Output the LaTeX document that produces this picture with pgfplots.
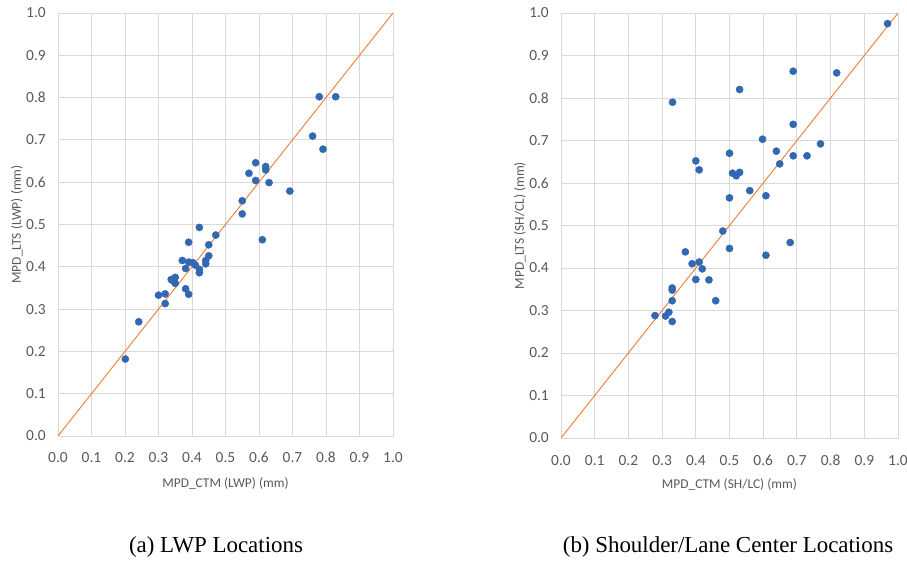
\documentclass[border=0pt]{standalone}
\usepackage{fontspec}
\setmainfont{Liberation Serif}
\newfontfamily\calib{Carlito}
\usepackage{pgfplots}
\pgfplotsset{compat=1.18}
\definecolor{dotblue}{RGB}{50,103,178}
\definecolor{lineorange}{RGB}{237,125,49}
\definecolor{txtgray}{RGB}{89,89,89}
\definecolor{gridgray}{RGB}{217,217,217}
\pgfplotsset{
  excel/.style={
    scale only axis,
    xmin=0, xmax=1, ymin=0, ymax=1,
    xtick={0,0.1,...,1.01}, ytick={0,0.1,...,1.01},
    grid=major,
    grid style={gridgray, line width=0.9bp},
    axis line style={gridgray, line width=0.9bp},
    major tick length=0pt,
    tick style={draw=none},
    /pgf/number format/assume math mode=true,
    /pgf/number format/.cd, fixed, fixed zerofill, precision=1,
    /pgfplots/.cd,
    ticklabel style={font=\calib\fontsize{15.5}{15.5}\selectfont, text=txtgray, inner sep=0pt},
    xticklabel style={anchor=base, yshift=-27bp},
    yticklabel style={anchor=east, xshift=-12bp},
    label style={font=\calib\fontsize{13.5}{13.5}\selectfont, text=txtgray, inner sep=0pt},
  },
  dots/.style={only marks, mark=*, mark size=3.6bp, mark options={draw=dotblue, fill=dotblue}},
  diag/.style={lineorange, line width=0.9bp, no marks},
}
\begin{document}
\begin{tikzpicture}
\path[use as bounding box] (0bp,0bp) rectangle (907bp,561bp);
\begin{axis}[excel, at={(58bp,125bp)}, anchor=south west, width=335bp, height=423bp,
  xlabel={MPD\_CTM (LWP) (mm)}, ylabel={MPD\_LTS (LWP) (mm)},
  xlabel style={at={(axis description cs:0.5,-0.1135)}, anchor=center},
  ylabel style={at={(axis description cs:-0.1224,0.5)}, anchor=center}]
\addplot[dots] coordinates {
(0.78,0.802) (0.829,0.802) (0.760,0.709) (0.791,0.678) (0.590,0.646)
(0.620,0.637) (0.620,0.629) (0.570,0.621) (0.590,0.604) (0.630,0.599)
(0.692,0.579) (0.550,0.556) (0.550,0.525) (0.422,0.493) (0.471,0.475)
(0.390,0.458) (0.610,0.464) (0.450,0.452) (0.450,0.426) (0.371,0.415)
(0.390,0.411) (0.402,0.410) (0.381,0.396) (0.441,0.415) (0.441,0.407)
(0.422,0.394) (0.422,0.386) (0.410,0.404) (0.338,0.370) (0.350,0.375)
(0.350,0.361) (0.343,0.367) (0.381,0.348) (0.390,0.335) (0.300,0.333)
(0.320,0.336) (0.320,0.313) (0.241,0.270) (0.201,0.182)
};
\addplot[diag] coordinates {(0,0) (1,1)};
\end{axis}
\begin{axis}[excel, at={(561bp,123bp)}, anchor=south west, width=337bp, height=425bp,
  xlabel={MPD\_CTM (SH/LC) (mm)}, ylabel={MPD\_LTS (SH/CL) (mm)},
  xlabel style={at={(axis description cs:0.5,-0.1106)}, anchor=center},
  ylabel style={at={(axis description cs:-0.1217,0.5)}, anchor=center}]
\addplot[dots] coordinates {
(0.969,0.975) (0.689,0.863) (0.818,0.859) (0.530,0.820) (0.331,0.790)
(0.689,0.738) (0.598,0.703) (0.770,0.692) (0.639,0.675) (0.500,0.670)
(0.689,0.664) (0.730,0.664) (0.649,0.645) (0.400,0.652) (0.410,0.631)
(0.509,0.623) (0.530,0.625) (0.520,0.617) (0.560,0.582) (0.608,0.570)
(0.500,0.565) (0.480,0.487) (0.680,0.460) (0.500,0.446) (0.608,0.430)
(0.369,0.438) (0.389,0.410) (0.410,0.414) (0.419,0.398) (0.400,0.373)
(0.439,0.372) (0.330,0.353) (0.330,0.348) (0.330,0.323) (0.459,0.323)
(0.279,0.288) (0.310,0.287) (0.320,0.296) (0.330,0.274)
};
\addplot[diag] coordinates {(0,0) (1,1)};
\end{axis}
\node[anchor=base, inner sep=0pt, font=\fontsize{23}{23}\selectfont] at (216bp,9bp) {(a) LWP Locations};
\node[anchor=base, inner sep=0pt, font=\fontsize{23}{23}\selectfont] at (728bp,9bp) {(b) Shoulder/Lane Center Locations};
\end{tikzpicture}
\end{document}
